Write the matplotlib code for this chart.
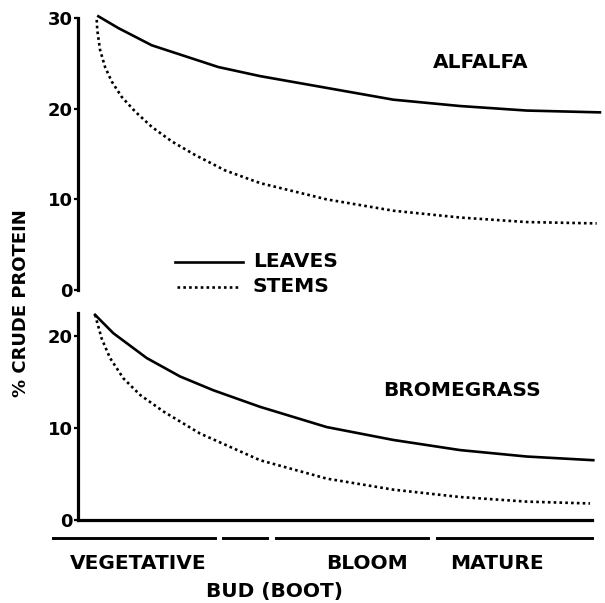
import matplotlib
matplotlib.use("Agg")
import matplotlib.pyplot as plt
import matplotlib.transforms as mtransforms

plt.rcParams['font.family'] = ['DejaVu Sans']
plt.rcParams['font.weight'] = 'bold'

# growth stage position (0 = start of vegetative, 100 = end of mature)
alfalfa_leaf_x = [3.95, 7.84, 14.35, 20.83, 27.31, 35.43, 48.41, 61.38, 74.36, 87.34, 101.6]
alfalfa_leaf_y = [30.2, 28.9, 27.0, 25.8, 24.6, 23.6, 22.3, 21.0, 20.3, 19.8, 19.6]
alfalfa_stem_x = [3.64, 3.74, 4.28, 5.26, 6.56, 8.51, 11.10, 14.35, 18.24, 22.78,
                  28.62, 35.43, 48.41, 61.38, 74.36, 87.34, 100.97]
alfalfa_stem_y = [29.8, 28.7, 26.5, 24.6, 23.0, 21.3, 19.7, 18.0, 16.4, 14.9,
                  13.2, 11.8, 10.0, 8.75, 8.0, 7.5, 7.35]

brome_leaf_x = [3.31, 6.87, 13.37, 19.86, 26.34, 35.43, 48.41, 61.38, 74.36, 87.34, 100.31]
brome_leaf_y = [22.3, 20.3, 17.6, 15.6, 14.1, 12.3, 10.1, 8.7, 7.6, 6.9, 6.5]
brome_stem_x = [3.31, 4.61, 6.23, 8.82, 12.07, 16.61, 23.75, 35.43, 48.41, 61.38,
                74.36, 87.34, 99.67]
brome_stem_y = [22.3, 19.7, 17.6, 15.4, 13.6, 11.8, 9.4, 6.5, 4.5, 3.3, 2.5, 2.0, 1.8]

stages = ["VEGETATIVE", "BUD (BOOT)", "BLOOM", "MATURE"]
stage_start = [-4.9, 28.2, 38.5, 69.9]
stage_end = [26.7, 36.8, 68.1, 100.0]
stage_label_x = [11.7, 38.2, 56.3, 81.6]
stage_label_row = [0, 1, 0, 0]

top_ticks = [0, 10, 20, 30]
bottom_ticks = [0, 10, 20]

fig = plt.figure(figsize=(6.05, 6.03), dpi=100)
ax1 = fig.add_axes([0.129, 0.519, 0.866, 0.451])
ax2 = fig.add_axes([0.129, 0.1376, 0.866, 0.3434])

lw = 1.9
dot = (0, (1.0, 1.2))
fs = 14.5

ax1.plot(alfalfa_leaf_x, alfalfa_leaf_y, color='black', lw=lw, clip_on=False)
ax1.plot(alfalfa_stem_x, alfalfa_stem_y, color='black', lw=lw, ls=dot, clip_on=False)
ax2.plot(brome_leaf_x, brome_leaf_y, color='black', lw=lw, clip_on=False)
ax2.plot(brome_stem_x, brome_stem_y, color='black', lw=lw, ls=dot, clip_on=False)

for ax in (ax1, ax2):
    ax.set_xlim(0, 102)
    for s in ('top', 'right'):
        ax.spines[s].set_visible(False)
    ax.spines['left'].set_linewidth(2.3)
    ax.set_xticks([])
    ax.tick_params(axis='y', direction='out', length=3, width=1.6, pad=1,
                   labelsize=13)

ax1.set_ylim(0, 30)
ax1.set_yticks(top_ticks)
ax1.spines['bottom'].set_visible(False)

ax2.set_ylim(0, 22.5)
ax2.set_yticks(bottom_ticks)
ax2.spines['bottom'].set_linewidth(2.3)
ax2.spines['bottom'].set_bounds(0, 100)

ax1.text(78.3, 25.1, "ALFALFA", fontsize=fs, ha='center', va='center')
ax2.text(74.7, 14.1, "BROMEGRASS", fontsize=fs, ha='center', va='center')

# legend drawn by hand as in the original
ax1.plot([18.9, 32.1], [3.1, 3.1], color='black', lw=lw, clip_on=False)
ax1.plot([19.3, 31.5], [0.35, 0.35], color='black', lw=lw, ls=dot, clip_on=False)
ax1.text(34.0, 3.1, "LEAVES", fontsize=fs, va='center')
ax1.text(34.0, 0.35, "STEMS", fontsize=fs, va='center')

fig.text(0.035, 0.497, "% CRUDE PROTEIN", rotation=90, fontsize=13,
         ha='center', va='center')

# stage bar under the lower panel
trans = mtransforms.blended_transform_factory(ax2.transData, ax2.transAxes)
for i in range(len(stages)):
    ax2.plot([stage_start[i], stage_end[i]], [-0.087, -0.087], color='black',
             lw=2.1, transform=trans, clip_on=False)
    y = -0.21 if stage_label_row[i] == 0 else -0.345
    ax2.text(stage_label_x[i], y, stages[i], transform=trans, fontsize=fs,
             ha='center', va='center')

fig.savefig("out.png", dpi=100)
